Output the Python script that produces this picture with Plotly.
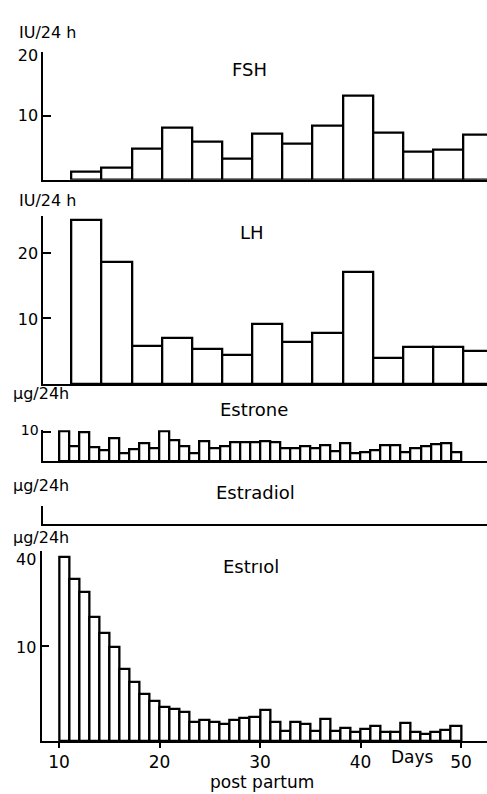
import numpy as np
import plotly.graph_objects as go

# Gonadotropins: 3-day urine pools, mid-day of each pool (days post partum)
period_mid = [12.75, 15.75, 18.75, 21.75, 24.75, 27.75, 30.75,
              33.75, 36.75, 39.75, 42.75, 45.75, 48.75, 51.75]
fsh = [1.2, 1.8, 4.9, 8.1, 6.0, 3.2, 7.2, 5.6, 8.5, 13.2, 7.3, 4.3, 4.7, 7.1]
lh = [25.0, 18.6, 5.8, 7.0, 5.3, 4.5, 9.1, 6.4, 7.8, 17.0, 3.9, 5.6, 5.6, 5.0]

# Oestrogens: daily collections, day 10 to day 49 post partum
days = list(range(10, 50))
estrone = [10.0, 5.1, 9.9, 4.8, 3.7, 7.7, 2.8, 3.9, 5.9, 4.2,
           10.1, 7.0, 5.1, 2.5, 6.8, 4.2, 5.1, 6.4, 6.4, 6.4,
           6.8, 6.5, 4.5, 4.5, 5.1, 4.5, 5.3, 3.4, 5.9, 2.5,
           3.0, 3.8, 5.5, 5.3, 3.0, 4.5, 4.9, 5.8, 6.1, 3.0]
estriol = [37.7, 28.9, 24.6, 16.9, 12.9, 9.8, 5.7, 3.9, 2.4, 1.8,
           1.3, 1.1, 0.93, 0.39, 0.48, 0.40, 0.32, 0.48, 0.56, 0.62,
           1.04, 0.40, 0.11, 0.41, 0.32, 0.11, 0.51, 0.11, 0.19, 0.09,
           0.15, 0.24, 0.09, 0.08, 0.36, 0.085, 0.05, 0.08, 0.13, 0.24]

fsh_ticks = [10, 20]
lh_ticks = [10, 20]
estrone_ticks = [10]
estriol_ticks = [10, 40]
day_ticks = [10, 20, 30, 40, 50]

W, H = 487, 794
FONT = "DejaVu Sans"


def px(x):
    return x / W


def py(y):
    return 1 - y / H


# horizontal scale: 10.05 px per day, day 10 at x = 59 px
def day_at(x):
    return 10 + (x - 59) / 10.05


bar_style = dict(marker=dict(color="white", line=dict(color="black", width=2.3)),
                 showlegend=False, hoverinfo="skip")

fig = go.Figure()
fig.add_trace(go.Bar(x=period_mid, y=fsh, width=3, xaxis="x", yaxis="y", **bar_style))
fig.add_trace(go.Bar(x=period_mid, y=lh, width=3, xaxis="x2", yaxis="y2", **bar_style))
fig.add_trace(go.Bar(x=[d + 0.5 for d in days], y=estrone, width=1,
                     xaxis="x3", yaxis="y3", **bar_style))
fig.add_trace(go.Bar(x=[], y=[], xaxis="x4", yaxis="y4", **bar_style))
# estriol is drawn on a square-root scale
estriol_sqrt = np.sqrt(estriol)
fig.add_trace(go.Bar(x=[d + 0.5 for d in days], y=estriol_sqrt, width=1,
                     xaxis="x5", yaxis="y5", **bar_style))
# companion axes carrying the label of the topmost tick (set a little lower)
fig.add_trace(go.Bar(x=[], y=[], xaxis="x", yaxis="y6", **bar_style))
fig.add_trace(go.Bar(x=[], y=[], xaxis="x5", yaxis="y7", **bar_style))

line = dict(showline=True, linecolor="black", linewidth=1.8, showgrid=False,
            zeroline=False)


def xax(left, anchor, **kw):
    d = dict(domain=[px(left), 1], range=[day_at(left), day_at(W)], anchor=anchor,
             showticklabels=False, ticks="", fixedrange=True, **line)
    d.update(kw)
    return d


def yax(bottom, top, rng, anchor, tickvals=None, ticktext=None, size=16, shift=0):
    d = dict(domain=[py(bottom), py(top)], range=rng, anchor=anchor, fixedrange=True,
             **line)
    if tickvals:
        d.update(tickvals=tickvals, ticktext=ticktext or [str(v) for v in tickvals],
                 ticks="inside", ticklen=8, tickwidth=1.6, tickcolor="black",
                 ticklabelshift=shift,
                 tickfont=dict(family=FONT, size=size, color="black"))
    else:
        d.update(showticklabels=False, ticks="")
    return d


def top_label_axis(base, anchor, rng, val, text, shift, size=16):
    return dict(overlaying=base, anchor=anchor, range=rng, fixedrange=True,
                showline=True, linecolor="rgba(0,0,0,0)", linewidth=1.8,
                showgrid=False, zeroline=False,
                tickvals=[val], ticktext=[text], ticks="inside", ticklen=8,
                tickwidth=1.6, tickcolor="rgba(0,0,0,0)", ticklabelshift=shift,
                tickfont=dict(family=FONT, size=size, color="black"))


fsh_range = [0, 20]
estriol_range = [0, float(np.sqrt(40))]

fig.update_layout(
    width=W, height=H, margin=dict(l=0, r=0, t=0, b=0),
    paper_bgcolor="white", plot_bgcolor="white", bargap=0,
    xaxis=xax(43.3, "y"),
    yaxis=yax(172.7, 43.3, fsh_range, "x", fsh_ticks,
              [str(fsh_ticks[0]), ""], shift=0),
    xaxis2=xax(43.3, "y2"),
    yaxis2=yax(379.3, 209.3, [0, 25.6], "x2", lh_ticks, shift=1),
    xaxis3=xax(43.3, "y3"),
    yaxis3=yax(457.3, 426.2, [0, 10.5], "x3", estrone_ticks, size=14, shift=-2),
    xaxis4=xax(43.3, "y4"),
    yaxis4=yax(520.7, 503, [0, 1], "x4"),
    xaxis5=xax(41.5, "y5", showticklabels=True, tickvals=day_ticks, ticks="outside",
               ticklen=5, tickwidth=1.6, tickcolor="black",
               tickfont=dict(family=FONT, size=17, color="black")),
    yaxis5=yax(740.3, 548.3, estriol_range, "x5",
               [float(np.sqrt(v)) for v in estriol_ticks],
               [str(estriol_ticks[0]), ""], shift=1),
    yaxis6=top_label_axis("y", "x", fsh_range, fsh_ticks[-1], str(fsh_ticks[-1]), 4),
    yaxis7=top_label_axis("y5", "x5", estriol_range,
                          float(np.sqrt(estriol_ticks[-1])),
                          str(estriol_ticks[-1]), 8),
)


def label(text, x, y, size, xanchor="center", yanchor="middle"):
    fig.add_annotation(text=text, x=px(x), y=py(y), xref="paper", yref="paper",
                       xanchor=xanchor, yanchor=yanchor, showarrow=False,
                       font=dict(family=FONT, size=size, color="black"))


# unit labels
label("IU/24 h", 17, 24, 16, "left")
label("IU/24 h", 17, 194, 16, "left")
label("\u03bcg/24h", 11, 389, 16, "left")
label("\u03bcg/24h", 11, 482, 16, "left")
label("\u03bcg/24h", 11, 535, 16, "left")

# hormone names
label("FSH", 250, 61, 18)
label("LH", 252, 226, 18)
label("Estrone", 254, 405, 18)
label("Estradiol", 255, 489, 18)
label("Estr\u0131ol", 251, 564, 18)

# x-axis captions
label("Days", 412, 757, 17)
label("post partum", 262, H, 17, yanchor="bottom")

fig.write_html("out.html")
